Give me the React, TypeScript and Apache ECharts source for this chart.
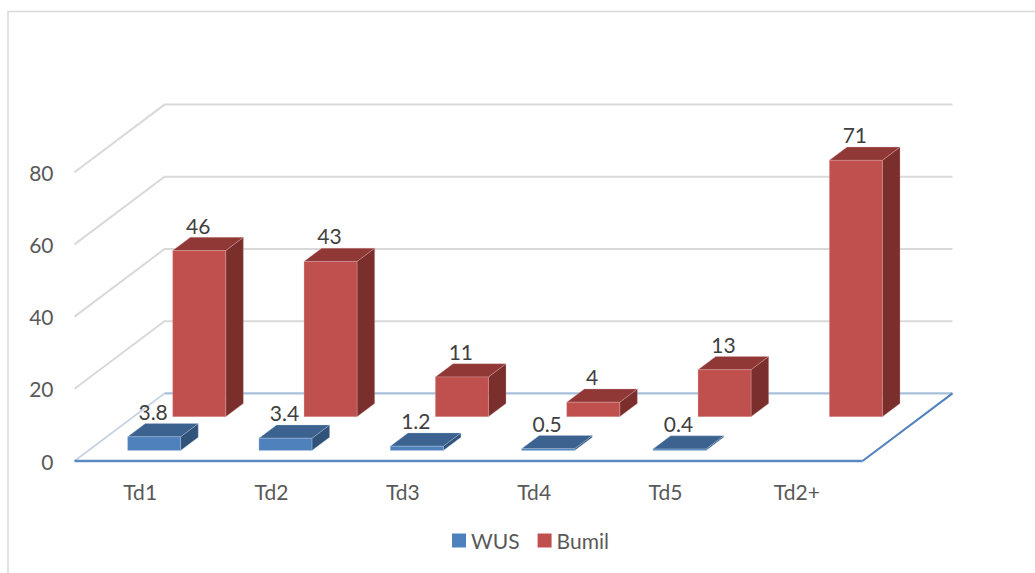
import React, { useEffect, useRef } from "react";
import * as echarts from "echarts";

const categories = ["Td1", "Td2", "Td3", "Td4", "Td5", "Td2+"];
const wusValues: (number | null)[] = [3.8, 3.4, 1.2, 0.5, 0.4, null];
const bumilValues: number[] = [46, 43, 11, 4, 13, 71];
const yTicks = [0, 20, 40, 60, 80];

const FONT = "Lato";
const FONT_SIZE = 21;
// oblique projection of the chart's depth axis, in pixels
const DEPTH_X = 90;
const DEPTH_Y = 67.6;
const BAR_DEPTH = 0.196;
const BAR_WIDTH_RATIO = 53 / 131.3;

type Faces = { front: string; top: string; side: string; edge: string };
const BLUE: Faces = { front: "#4F81BD", top: "#3C628F", side: "#315379", edge: "#B9CDE5" };
const RED: Faces = { front: "#C0504D", top: "#8F3836", side: "#7A2F2D", edge: "#E0B4B2" };

function barRenderer(faces: Faces, rowStart: number) {
  return (_params: any, api: any) => {
    const cat = api.value(0);
    const val = api.value(1);
    if (val === null || val === undefined || isNaN(val)) return null;
    const band = api.size([1, 0])[0];
    const w = band * BAR_WIDTH_RATIO;
    const base = api.coord([cat, 0]);
    const top = api.coord([cat, val]);
    const ox = rowStart * DEPTH_X;
    const oy = rowStart * DEPTH_Y;
    const dx = BAR_DEPTH * DEPTH_X;
    const dy = BAR_DEPTH * DEPTH_Y;
    const x0 = base[0] + ox - w / 2;
    const x1 = x0 + w;
    const y0 = base[1] - oy;
    const y1 = top[1] - oy;
    const edgeStyle = { stroke: faces.edge, lineWidth: 0.7, strokeOpacity: 0.45 };
    return {
      type: "group",
      children: [
        {
          type: "polygon",
          shape: { points: [[x1, y0], [x1 + dx, y0 - dy], [x1 + dx, y1 - dy], [x1, y1]] },
          style: { fill: faces.side, ...edgeStyle },
        },
        {
          type: "polygon",
          shape: { points: [[x0, y1], [x1, y1], [x1 + dx, y1 - dy], [x0 + dx, y1 - dy]] },
          style: { fill: faces.top, ...edgeStyle },
        },
        {
          type: "polygon",
          shape: { points: [[x0, y0], [x1, y0], [x1, y1], [x0, y1]] },
          style: { fill: faces.front, ...edgeStyle },
        },
        {
          type: "text",
          x: (x0 + x1) / 2 - 1,
          y: y1 - 25.5,
          style: {
            text: String(val),
            fontFamily: FONT,
            fontSize: FONT_SIZE,
            fill: "#404040",
            align: "center",
            verticalAlign: "middle",
          },
        },
      ],
    };
  };
}

function wallRenderer(params: any, api: any) {
  const tick = api.value(0);
  const sys = params.coordSys;
  const y = api.coord([0, tick])[1];
  const left = sys.x;
  const right = sys.x + sys.width;
  if (tick === 0) {
    return {
      type: "group",
      children: [
        { type: "line", shape: { x1: left, y1: y, x2: left + DEPTH_X, y2: y - DEPTH_Y }, style: { stroke: "#C5D2E2", lineWidth: 1.8 } },
        { type: "line", shape: { x1: left + DEPTH_X, y1: y - DEPTH_Y, x2: right + DEPTH_X, y2: y - DEPTH_Y }, style: { stroke: "#A9C0DA", lineWidth: 2.2 } },
        { type: "line", shape: { x1: right, y1: y, x2: right + DEPTH_X, y2: y - DEPTH_Y }, style: { stroke: "#4F81BD", lineWidth: 2 } },
        { type: "line", shape: { x1: left, y1: y, x2: right, y2: y }, style: { stroke: "#5B8AC2", lineWidth: 2.4 } },
      ],
    };
  }
  return {
    type: "polyline",
    shape: { points: [[left, y], [left + DEPTH_X, y - DEPTH_Y], [right + DEPTH_X, y - DEPTH_Y]] },
    style: { stroke: "#D9D9D9", lineWidth: 2, fill: "none" },
  };
}

export default function App() {
  const ref = useRef<HTMLDivElement>(null);
  useEffect(() => {
    if (!ref.current) return;
    const chart = echarts.init(ref.current, undefined, { renderer: "svg" });
    chart.setOption({
      animation: false,
      backgroundColor: "#FFFFFF",
      textStyle: { fontFamily: FONT },
      grid: { left: 74.5, top: 172.2, width: 788, height: 288.8, containLabel: false },
      legend: {
        data: ["WUS", "Bumil"],
        left: 452,
        top: 530,
        padding: 0,
        icon: "rect",
        itemWidth: 14,
        itemHeight: 14,
        itemGap: 18,
        textStyle: { fontFamily: FONT, fontSize: FONT_SIZE, color: "#595959" },
      },
      xAxis: {
        type: "category",
        data: categories,
        axisLine: { show: false },
        axisTick: { show: false },
        splitLine: { show: false },
        axisLabel: { fontFamily: FONT, fontSize: FONT_SIZE, color: "#595959", margin: 20, interval: 0 },
      },
      yAxis: {
        type: "value",
        min: 0,
        max: 80,
        interval: 20,
        axisLine: { show: false },
        axisTick: { show: false },
        splitLine: { show: false },
        axisLabel: { fontFamily: FONT, fontSize: FONT_SIZE, color: "#595959", margin: 21, padding: [4, 0, 0, 0] },
      },
      graphic: [
        {
          type: "polyline",
          silent: true,
          shape: { points: [[8, 573], [8, 11.5], [1035, 11.5]] },
          style: { stroke: "#D9D9D9", lineWidth: 1.5, fill: "none" },
        },
      ],
      series: [
        {
          name: "wall",
          type: "custom",
          data: yTicks.map((t) => [t]),
          encode: { y: 0 },
          renderItem: wallRenderer,
          silent: true,
          z: 1,
        },
        {
          name: "Bumil",
          type: "custom",
          data: bumilValues.map((v, i) => [i, v]),
          encode: { x: 0, y: 1 },
          itemStyle: { color: RED.front },
          renderItem: barRenderer(RED, 0.656),
          z: 2,
        },
        {
          name: "WUS",
          type: "custom",
          data: wusValues.map((v, i) => [i, v]),
          encode: { x: 0, y: 1 },
          itemStyle: { color: BLUE.front },
          renderItem: barRenderer(BLUE, 0.155),
          z: 3,
        },
      ],
    });
    return () => chart.dispose();
  }, []);
  return <div ref={ref} style={{ position: "absolute", left: 0, top: 0, width: 1035, height: 573 }} />;
}
